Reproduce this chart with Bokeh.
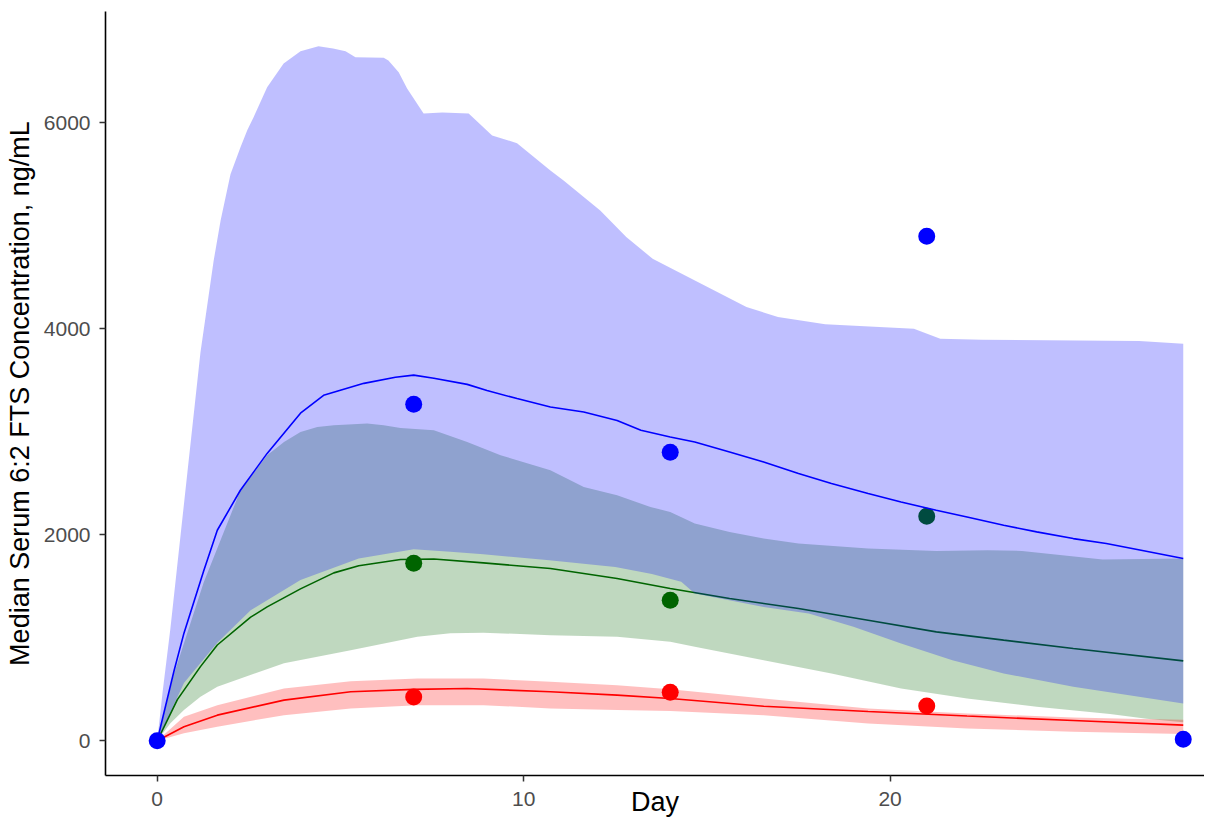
from bokeh.plotting import figure
from bokeh.models import Range1d, FixedTicker
from bokeh.embed import file_html
from bokeh.resources import INLINE

# ---- data ----
blue_hi_day = [0, 0.15, 0.36, 0.77, 1.18, 1.54, 1.73, 2.0, 2.27, 2.46, 2.63, 3.0, 3.45, 3.91, 4.4, 4.8, 5.14,
               5.41, 6.18, 6.31, 6.59, 6.82, 7.27, 7.78, 8.5, 9.14, 9.82, 10.73, 11.09, 12.09, 12.8,
               13.52, 14.66, 16.08, 16.94, 18.23, 20.65, 21.37, 22.51, 26.8, 28.0]
blue_hi = [0, 480, 1090, 2430, 3770, 4660, 5050, 5500, 5760, 5930, 6054, 6345, 6575, 6695, 6743, 6720, 6695,
           6636, 6630, 6604, 6491, 6332, 6090, 6100, 6090, 5877, 5802, 5537, 5440, 5149, 4890,
           4680, 4470, 4211, 4114, 4043, 4001, 3904, 3894, 3881, 3855]

blue_lo_day = [0, 0.73, 1.64, 2.55, 3.91, 5.5, 7.0, 8.0, 8.9, 10.7, 12.5, 13.5, 14.3, 14.67, 16.55,
               17.78, 19.0, 20.3, 21.7, 23.1, 25.0, 28.0]
blue_lo = [0, 560, 952, 1268, 1560, 1770, 1860, 1834, 1811, 1753, 1688, 1620, 1543, 1430, 1300,
           1236, 1106, 945, 783, 654, 524, 363]

blue_med_day = [0, 0.46, 0.73, 1.27, 1.64, 2.27, 3.0, 3.91, 4.54, 5.64, 6.5, 7.0, 7.55, 8.46, 9.0,
                9.82, 10.73, 11.64, 12.55, 13.2, 14.0, 14.67, 15.62, 16.55, 17.5, 18.4, 19.4, 20.3,
                21.26, 22.1, 23.1, 24.0, 25.0, 25.9, 26.85, 28.0]
blue_med = [0, 680, 1045, 1650, 2044, 2432, 2790, 3180, 3354, 3470, 3530, 3550, 3520, 3460, 3400,
            3322, 3240, 3192, 3110, 3014, 2950, 2901, 2804, 2707, 2594, 2497, 2400, 2319,
            2238, 2173, 2093, 2028, 1963, 1915, 1850, 1770]

green_hi_day = [0, 0.46, 1.27, 2.27, 2.55, 3.0, 3.46, 3.91, 4.37, 4.82, 5.73, 6.18, 6.64, 7.55, 8.46,
                9.37, 10.73, 11.64, 12.55, 13.46, 14.0, 14.67, 15.62, 16.55, 17.5, 19.4, 21.26,
                22.66, 23.6, 25.8, 28.0]
green_hi = [0, 650, 1540, 2430, 2562, 2772, 2901, 2998, 3047, 3063, 3080, 3063, 3037, 3014, 2901,
            2772, 2626, 2464, 2384, 2270, 2222, 2109, 2028, 1963, 1915, 1867, 1843,
            1850, 1843, 1760, 1770]

green_lo_day = [0, 0.36, 0.73, 1.18, 1.64, 3.46, 5.28, 7.1, 8.0, 8.9, 10.73, 12.55, 14.0, 14.67,
                16.55, 18.4, 20.3, 22.1, 24.0, 26.0, 27.0, 28.0]
green_lo = [0, 170, 298, 427, 524, 753, 880, 1009, 1045, 1050, 1025, 1009, 961, 912,
            783, 654, 508, 411, 330, 260, 215, 180]

green_med_day = [0, 0.55, 1.18, 1.64, 2.55, 3.0, 3.91, 4.82, 5.5, 6.64, 7.55, 8.9, 10.73, 12.55,
                 14.0, 15.62, 17.5, 19.4, 21.26, 23.1, 25.0, 28.0]
green_med = [0, 400, 720, 930, 1200, 1300, 1475, 1630, 1700, 1760, 1765, 1727, 1672, 1575,
             1478, 1381, 1284, 1171, 1057, 977, 896, 776]

red_hi_day = [0, 0.73, 1.64, 3.46, 5.28, 7.1, 8.9, 10.73, 12.55, 14.0, 16.55, 19.4, 22.1, 25.0, 26.5, 28.0]
red_hi = [0, 233, 346, 508, 579, 605, 605, 572, 540, 500, 411, 314, 266, 225, 215, 205]

red_lo_day = [0, 0.73, 1.64, 3.46, 5.28, 7.1, 8.9, 10.73, 12.55, 14.0, 16.55, 19.4, 22.1, 25.0, 28.0]
red_lo = [0, 72, 136, 249, 314, 346, 346, 314, 298, 290, 249, 169, 120, 88, 65]

red_med_day = [0, 0.73, 1.64, 3.46, 5.28, 7.0, 8.46, 10.73, 12.55, 14.0, 16.55, 19.4, 22.1, 25.0, 28.0]
red_med = [0, 136, 249, 395, 476, 499, 508, 476, 443, 411, 335, 285, 240, 197, 152]

blue_obs_day = [0, 7, 14, 21, 28]
blue_obs = [0, 3267, 2801, 4898, 16]
green_obs_day = [7, 14, 21]
green_obs = [1724, 1365, 2180]
red_obs_day = [7, 14, 21]
red_obs = [424, 472, 337]

x_ticks = [0, 10, 20]
y_ticks = [0, 2000, 4000, 6000]
x_title = "Day"
y_title = "Median Serum 6:2 FTS Concentration, ng/mL"

BLUE = "#0000FF"
GREEN = "#006400"
RED = "#FF0000"
FONT = "Liberation Sans"

p = figure(width=1204, height=823, output_backend="svg", toolbar_location=None,
           x_range=Range1d(-1.411, 28.58), y_range=Range1d(-337, 7080),
           min_border_left=105, min_border_right=0, min_border_top=11, min_border_bottom=48)
p.outline_line_color = None
p.xgrid.visible = False
p.ygrid.visible = False
p.background_fill_color = "white"
p.border_fill_color = "white"


def band(days_hi, hi, days_lo, lo):
    xs = list(days_hi) + list(days_lo)[::-1]
    ys = list(hi) + list(lo)[::-1]
    return xs, ys


gx, gy = band(green_hi_day, green_hi, green_lo_day, green_lo)
p.patch(gx, gy, fill_color=GREEN, fill_alpha=0.25, line_color=None)
rx, ry = band(red_hi_day, red_hi, red_lo_day, red_lo)
p.patch(rx, ry, fill_color=RED, fill_alpha=0.25, line_color=None)

p.line(green_med_day, green_med, line_color=GREEN, line_width=1.6)
p.line(red_med_day, red_med, line_color=RED, line_width=1.6)
p.scatter(red_obs_day, red_obs, size=17, fill_color=RED, line_color=None)
p.scatter(green_obs_day, green_obs, size=17, fill_color=GREEN, line_color=None)

bx, by = band(blue_hi_day, blue_hi, blue_lo_day, blue_lo)
p.patch(bx, by, fill_color=BLUE, fill_alpha=0.25, line_color=None)
p.line(blue_med_day, blue_med, line_color=BLUE, line_width=1.6)
p.scatter(blue_obs_day, blue_obs, size=17, fill_color=BLUE, line_color=None)

for ax in (p.xaxis[0], p.yaxis[0]):
    ax.axis_line_color = "black"
    ax.axis_line_width = 1.6
    ax.major_tick_line_color = "#333333"
    ax.major_tick_line_width = 1.5
    ax.major_tick_in = 0
    ax.major_tick_out = 6
    ax.minor_tick_line_color = None
    ax.major_label_text_font = FONT
    ax.major_label_text_font_size = "21px"
    ax.major_label_text_color = "#4D4D4D"
    ax.major_label_text_line_height = 1.0
    ax.axis_label_text_font = FONT
    ax.axis_label_text_font_size = "27px"
    ax.axis_label_text_font_style = "normal"
    ax.axis_label_text_color = "black"
    ax.axis_label_text_line_height = 1.0

p.xaxis.ticker = FixedTicker(ticks=x_ticks)
p.yaxis.ticker = FixedTicker(ticks=y_ticks)
p.xaxis.axis_label = x_title
p.yaxis.axis_label = y_title
p.xaxis.major_label_standoff = 10
p.yaxis.major_label_standoff = 9
p.xaxis.axis_label_standoff = -22
p.yaxis.axis_label_standoff = 6

open("out.html", "w").write(file_html(p, INLINE))
